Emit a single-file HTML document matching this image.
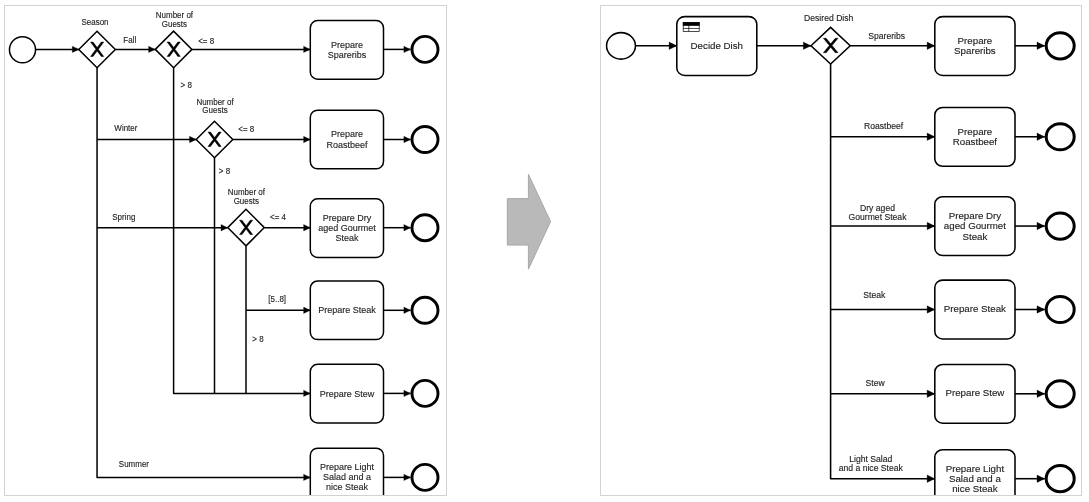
<!DOCTYPE html>
<html><head><meta charset="utf-8"><title>BPMN</title>
<style>
html,body{margin:0;padding:0;background:#fff;}
body{width:1089px;height:502px;overflow:hidden;position:relative;font-family:"Liberation Sans", sans-serif;}
svg{position:absolute;left:0;top:0;will-change:transform;}
svg text{font-family:"Liberation Sans", sans-serif;stroke:#222;stroke-width:0.12px;}
</style></head><body>
<svg width="1089" height="502" viewBox="0 0 1089 502">
<defs>
<clipPath id="cl"><rect x="5" y="6" width="441" height="489"/></clipPath>
<clipPath id="cr"><rect x="601" y="6" width="480" height="489"/></clipPath>
</defs>
<rect x="4.5" y="5.5" width="442" height="490" fill="#fff" stroke="#d3d3d3" stroke-width="1"/>
<rect x="600.5" y="5.5" width="481" height="490" fill="#fff" stroke="#d3d3d3" stroke-width="1"/>
<g clip-path="url(#cl)">
<g id="left">
<path d="M35.8 49.4 L79 49.4" fill="none" stroke="#000" stroke-width="1.5" stroke-linejoin="round"/>
<path d="M79 49.4 L72.3 52.6 L72.3 46.2 Z" fill="#000" stroke="#000" stroke-width="0.3" stroke-linejoin="round"/>
<circle cx="22.5" cy="49.7" r="13.05" fill="#fff" stroke="#000" stroke-width="1.5"/>
<path d="M115.4 49.4 L155.3 49.4" fill="none" stroke="#000" stroke-width="1.5" stroke-linejoin="round"/>
<path d="M155.3 49.4 L148.6 52.6 L148.6 46.2 Z" fill="#000" stroke="#000" stroke-width="0.3" stroke-linejoin="round"/>
<path d="M97.05 67.4 L97.05 477.4 L310.3 477.4" fill="none" stroke="#000" stroke-width="1.5" stroke-linejoin="round"/>
<path d="M310.3 477.4 L303.6 480.6 L303.6 474.2 Z" fill="#000" stroke="#000" stroke-width="0.3" stroke-linejoin="round"/>
<path d="M97.05 139.5 L196.2 139.5" fill="none" stroke="#000" stroke-width="1.5" stroke-linejoin="round"/>
<path d="M196.2 139.5 L189.5 142.7 L189.5 136.3 Z" fill="#000" stroke="#000" stroke-width="0.3" stroke-linejoin="round"/>
<path d="M97.05 227.7 L227.7 227.7" fill="none" stroke="#000" stroke-width="1.5" stroke-linejoin="round"/>
<path d="M227.7 227.7 L221 230.9 L221 224.5 Z" fill="#000" stroke="#000" stroke-width="0.3" stroke-linejoin="round"/>
<path d="M191.7 49.4 L310.3 49.4" fill="none" stroke="#000" stroke-width="1.5" stroke-linejoin="round"/>
<path d="M310.3 49.4 L303.6 52.6 L303.6 46.2 Z" fill="#000" stroke="#000" stroke-width="0.3" stroke-linejoin="round"/>
<path d="M173.6 67.6 L173.6 393.4 L310.3 393.4" fill="none" stroke="#000" stroke-width="1.5" stroke-linejoin="round"/>
<path d="M310.3 393.4 L303.6 396.6 L303.6 390.2 Z" fill="#000" stroke="#000" stroke-width="0.3" stroke-linejoin="round"/>
<path d="M232.9 139.5 L310.3 139.5" fill="none" stroke="#000" stroke-width="1.5" stroke-linejoin="round"/>
<path d="M310.3 139.5 L303.6 142.7 L303.6 136.3 Z" fill="#000" stroke="#000" stroke-width="0.3" stroke-linejoin="round"/>
<path d="M214.5 157.7 L214.5 393.4" fill="none" stroke="#000" stroke-width="1.5" stroke-linejoin="round"/>
<path d="M264.3 227.7 L310.3 227.7" fill="none" stroke="#000" stroke-width="1.5" stroke-linejoin="round"/>
<path d="M310.3 227.7 L303.6 230.9 L303.6 224.5 Z" fill="#000" stroke="#000" stroke-width="0.3" stroke-linejoin="round"/>
<path d="M246 246.3 L246 393.4" fill="none" stroke="#000" stroke-width="1.5" stroke-linejoin="round"/>
<path d="M246 310.3 L310.3 310.3" fill="none" stroke="#000" stroke-width="1.5" stroke-linejoin="round"/>
<path d="M310.3 310.3 L303.6 313.5 L303.6 307.1 Z" fill="#000" stroke="#000" stroke-width="0.3" stroke-linejoin="round"/>
<path d="M383.5 49.4 L410.55 49.4" fill="none" stroke="#000" stroke-width="1.5" stroke-linejoin="round"/>
<path d="M410.55 49.4 L403.85 52.6 L403.85 46.2 Z" fill="#000" stroke="#000" stroke-width="0.3" stroke-linejoin="round"/>
<path d="M383.5 139.5 L410.55 139.5" fill="none" stroke="#000" stroke-width="1.5" stroke-linejoin="round"/>
<path d="M410.55 139.5 L403.85 142.7 L403.85 136.3 Z" fill="#000" stroke="#000" stroke-width="0.3" stroke-linejoin="round"/>
<path d="M383.5 227.7 L410.55 227.7" fill="none" stroke="#000" stroke-width="1.5" stroke-linejoin="round"/>
<path d="M410.55 227.7 L403.85 230.9 L403.85 224.5 Z" fill="#000" stroke="#000" stroke-width="0.3" stroke-linejoin="round"/>
<path d="M383.5 310.3 L410.55 310.3" fill="none" stroke="#000" stroke-width="1.5" stroke-linejoin="round"/>
<path d="M410.55 310.3 L403.85 313.5 L403.85 307.1 Z" fill="#000" stroke="#000" stroke-width="0.3" stroke-linejoin="round"/>
<path d="M383.5 393.4 L410.55 393.4" fill="none" stroke="#000" stroke-width="1.5" stroke-linejoin="round"/>
<path d="M410.55 393.4 L403.85 396.6 L403.85 390.2 Z" fill="#000" stroke="#000" stroke-width="0.3" stroke-linejoin="round"/>
<path d="M383.5 477.4 L410.55 477.4" fill="none" stroke="#000" stroke-width="1.5" stroke-linejoin="round"/>
<path d="M410.55 477.4 L403.85 480.6 L403.85 474.2 Z" fill="#000" stroke="#000" stroke-width="0.3" stroke-linejoin="round"/>
<path d="M78.75 49.5 L97.05 31.2 L115.35 49.5 L97.05 67.8 Z" fill="#fff" stroke="#000" stroke-width="1.5" stroke-linejoin="miter"/>
<path d="M90.57 42.1 L95.92 49.29 L90.57 56.48 L93.04 56.48 L97.15 50.95 L101.27 56.48 L103.74 56.48 L98.39 49.29 L103.74 42.1 L101.27 42.1 L97.15 47.62 L93.04 42.1 Z" fill="#000" stroke="#000" stroke-width="0.5"/>
<path d="M155.3 49.4 L173.6 31.1 L191.9 49.4 L173.6 67.7 Z" fill="#fff" stroke="#000" stroke-width="1.5" stroke-linejoin="miter"/>
<path d="M167.12 42 L172.47 49.19 L167.12 56.38 L169.59 56.38 L173.7 50.85 L177.82 56.38 L180.29 56.38 L174.94 49.19 L180.29 42 L177.82 42 L173.7 47.52 L169.59 42 Z" fill="#000" stroke="#000" stroke-width="0.5"/>
<path d="M196.2 139.5 L214.5 121.2 L232.8 139.5 L214.5 157.8 Z" fill="#fff" stroke="#000" stroke-width="1.5" stroke-linejoin="miter"/>
<path d="M208.02 132.1 L213.37 139.29 L208.02 146.48 L210.49 146.48 L214.6 140.95 L218.72 146.48 L221.19 146.48 L215.84 139.29 L221.19 132.1 L218.72 132.1 L214.6 137.62 L210.49 132.1 Z" fill="#000" stroke="#000" stroke-width="0.5"/>
<path d="M227.7 227.6 L246 209.3 L264.3 227.6 L246 245.9 Z" fill="#fff" stroke="#000" stroke-width="1.5" stroke-linejoin="miter"/>
<path d="M239.52 220.2 L244.87 227.39 L239.52 234.58 L241.99 234.58 L246.1 229.05 L250.22 234.58 L252.69 234.58 L247.34 227.39 L252.69 220.2 L250.22 220.2 L246.1 225.72 L241.99 220.2 Z" fill="#000" stroke="#000" stroke-width="0.5"/>
<rect x="310.3" y="20.6" width="73.2" height="58.6" rx="7.3" ry="7.3" fill="#fff" stroke="#000" stroke-width="1.5"/>
<circle cx="425" cy="49.4" r="13" fill="#fff" stroke="#000" stroke-width="2.9"/>
<rect x="310.3" y="110.2" width="73.2" height="58.6" rx="7.3" ry="7.3" fill="#fff" stroke="#000" stroke-width="1.5"/>
<circle cx="425" cy="139.5" r="13" fill="#fff" stroke="#000" stroke-width="2.9"/>
<rect x="310.3" y="198.8" width="73.2" height="58.6" rx="7.3" ry="7.3" fill="#fff" stroke="#000" stroke-width="1.5"/>
<circle cx="425" cy="227.7" r="13" fill="#fff" stroke="#000" stroke-width="2.9"/>
<rect x="310.3" y="281" width="73.2" height="58.6" rx="7.3" ry="7.3" fill="#fff" stroke="#000" stroke-width="1.5"/>
<circle cx="425" cy="310.3" r="13" fill="#fff" stroke="#000" stroke-width="2.9"/>
<rect x="310.3" y="364.3" width="73.2" height="58.6" rx="7.3" ry="7.3" fill="#fff" stroke="#000" stroke-width="1.5"/>
<circle cx="425" cy="393.4" r="13" fill="#fff" stroke="#000" stroke-width="2.9"/>
<rect x="310.3" y="448.2" width="73.2" height="58.6" rx="7.3" ry="7.3" fill="#fff" stroke="#000" stroke-width="1.5"/>
<circle cx="425" cy="477.4" r="13" fill="#fff" stroke="#000" stroke-width="2.9"/>
<text transform="translate(346.9 47.8) scale(1 1.07)" x="0" y="0" font-size="9" text-anchor="middle" fill="#222">Prepare</text>
<text transform="translate(346.9 58) scale(1 1.07)" x="0" y="0" font-size="9" text-anchor="middle" fill="#222">Spareribs</text>
<text transform="translate(346.9 137.4) scale(1 1.07)" x="0" y="0" font-size="9" text-anchor="middle" fill="#222">Prepare</text>
<text transform="translate(346.9 147.6) scale(1 1.07)" x="0" y="0" font-size="9" text-anchor="middle" fill="#222">Roastbeef</text>
<text transform="translate(346.9 220.7) scale(1 1.07)" x="0" y="0" font-size="9" text-anchor="middle" fill="#222">Prepare Dry</text>
<text transform="translate(346.9 230.9) scale(1 1.07)" x="0" y="0" font-size="9" text-anchor="middle" fill="#222">aged Gourmet</text>
<text transform="translate(346.9 241.1) scale(1 1.07)" x="0" y="0" font-size="9" text-anchor="middle" fill="#222">Steak</text>
<text transform="translate(346.9 313.2) scale(1 1.07)" x="0" y="0" font-size="9" text-anchor="middle" fill="#222">Prepare Steak</text>
<text transform="translate(346.9 397) scale(1 1.07)" x="0" y="0" font-size="9" text-anchor="middle" fill="#222">Prepare Stew</text>
<text transform="translate(346.9 469.8) scale(1 1.07)" x="0" y="0" font-size="9" text-anchor="middle" fill="#222">Prepare Light</text>
<text transform="translate(346.9 480) scale(1 1.07)" x="0" y="0" font-size="9" text-anchor="middle" fill="#222">Salad and a</text>
<text transform="translate(346.9 490.2) scale(1 1.07)" x="0" y="0" font-size="9" text-anchor="middle" fill="#222">nice Steak</text>
<text transform="translate(95 24.8) scale(1 1.1)" x="0" y="0" font-size="8" text-anchor="middle" fill="#222">Season</text>
<text transform="translate(174.4 18.3) scale(1 1.1)" x="0" y="0" font-size="8" text-anchor="middle" fill="#222">Number of</text>
<text transform="translate(174.4 26.9) scale(1 1.1)" x="0" y="0" font-size="8" text-anchor="middle" fill="#222">Guests</text>
<text transform="translate(129.8 42.7) scale(1 1.1)" x="0" y="0" font-size="8" text-anchor="middle" fill="#222">Fall</text>
<text transform="translate(206.2 44.1) scale(1 1.1)" x="0" y="0" font-size="8" text-anchor="middle" fill="#222">&lt;= 8</text>
<text transform="translate(186.2 88.2) scale(1 1.1)" x="0" y="0" font-size="8" text-anchor="middle" fill="#222">&gt; 8</text>
<text transform="translate(125.9 130.9) scale(1 1.1)" x="0" y="0" font-size="8" text-anchor="middle" fill="#222">Winter</text>
<text transform="translate(215 104.8) scale(1 1.1)" x="0" y="0" font-size="8" text-anchor="middle" fill="#222">Number of</text>
<text transform="translate(215 113.3) scale(1 1.1)" x="0" y="0" font-size="8" text-anchor="middle" fill="#222">Guests</text>
<text transform="translate(246.3 131.9) scale(1 1.1)" x="0" y="0" font-size="8" text-anchor="middle" fill="#222">&lt;= 8</text>
<text transform="translate(224.5 173.8) scale(1 1.1)" x="0" y="0" font-size="8" text-anchor="middle" fill="#222">&gt; 8</text>
<text transform="translate(123.8 220.3) scale(1 1.1)" x="0" y="0" font-size="8" text-anchor="middle" fill="#222">Spring</text>
<text transform="translate(246.3 195.1) scale(1 1.1)" x="0" y="0" font-size="8" text-anchor="middle" fill="#222">Number of</text>
<text transform="translate(246.3 203.6) scale(1 1.1)" x="0" y="0" font-size="8" text-anchor="middle" fill="#222">Guests</text>
<text transform="translate(278 220.1) scale(1 1.1)" x="0" y="0" font-size="8" text-anchor="middle" fill="#222">&lt;= 4</text>
<text transform="translate(277.2 301.5) scale(1 1.1)" x="0" y="0" font-size="8" text-anchor="middle" fill="#222">[5..8]</text>
<text transform="translate(258 341.5) scale(1 1.1)" x="0" y="0" font-size="8" text-anchor="middle" fill="#222">&gt; 8</text>
<text transform="translate(133.9 466.7) scale(1 1.1)" x="0" y="0" font-size="8" text-anchor="middle" fill="#222">Summer</text>
</g>
</g>
<g clip-path="url(#cr)">
<g id="right">
<path d="M635.4 45.8 L676.8 45.8" fill="none" stroke="#000" stroke-width="1.55" stroke-linejoin="round"/>
<path d="M676.8 45.8 L669.1 49.5 L669.1 42.1 Z" fill="#000" stroke="#000" stroke-width="0.3" stroke-linejoin="round"/>
<path d="M756.8 45.8 L811 45.8" fill="none" stroke="#000" stroke-width="1.55" stroke-linejoin="round"/>
<path d="M811 45.8 L803.3 49.5 L803.3 42.1 Z" fill="#000" stroke="#000" stroke-width="0.3" stroke-linejoin="round"/>
<path d="M850.2 45.8 L934.8 45.8" fill="none" stroke="#000" stroke-width="1.55" stroke-linejoin="round"/>
<path d="M934.8 45.8 L927.1 49.5 L927.1 42.1 Z" fill="#000" stroke="#000" stroke-width="0.3" stroke-linejoin="round"/>
<path d="M830.6 63.8 L830.6 478.7 L934.8 478.7" fill="none" stroke="#000" stroke-width="1.55" stroke-linejoin="round"/>
<path d="M934.8 478.7 L927.1 482.4 L927.1 475 Z" fill="#000" stroke="#000" stroke-width="0.3" stroke-linejoin="round"/>
<path d="M830.6 136.75 L934.8 136.75" fill="none" stroke="#000" stroke-width="1.55" stroke-linejoin="round"/>
<path d="M934.8 136.75 L927.1 140.45 L927.1 133.05 Z" fill="#000" stroke="#000" stroke-width="0.3" stroke-linejoin="round"/>
<path d="M830.6 226.05 L934.8 226.05" fill="none" stroke="#000" stroke-width="1.55" stroke-linejoin="round"/>
<path d="M934.8 226.05 L927.1 229.75 L927.1 222.35 Z" fill="#000" stroke="#000" stroke-width="0.3" stroke-linejoin="round"/>
<path d="M830.6 309.5 L934.8 309.5" fill="none" stroke="#000" stroke-width="1.55" stroke-linejoin="round"/>
<path d="M934.8 309.5 L927.1 313.2 L927.1 305.8 Z" fill="#000" stroke="#000" stroke-width="0.3" stroke-linejoin="round"/>
<path d="M830.6 393.8 L934.8 393.8" fill="none" stroke="#000" stroke-width="1.55" stroke-linejoin="round"/>
<path d="M934.8 393.8 L927.1 397.5 L927.1 390.1 Z" fill="#000" stroke="#000" stroke-width="0.3" stroke-linejoin="round"/>
<path d="M1015 45.8 L1044.7 45.8" fill="none" stroke="#000" stroke-width="1.55" stroke-linejoin="round"/>
<path d="M1044.7 45.8 L1037 49.5 L1037 42.1 Z" fill="#000" stroke="#000" stroke-width="0.3" stroke-linejoin="round"/>
<path d="M1015 136.75 L1044.7 136.75" fill="none" stroke="#000" stroke-width="1.55" stroke-linejoin="round"/>
<path d="M1044.7 136.75 L1037 140.45 L1037 133.05 Z" fill="#000" stroke="#000" stroke-width="0.3" stroke-linejoin="round"/>
<path d="M1015 226.05 L1044.7 226.05" fill="none" stroke="#000" stroke-width="1.55" stroke-linejoin="round"/>
<path d="M1044.7 226.05 L1037 229.75 L1037 222.35 Z" fill="#000" stroke="#000" stroke-width="0.3" stroke-linejoin="round"/>
<path d="M1015 309.5 L1044.7 309.5" fill="none" stroke="#000" stroke-width="1.55" stroke-linejoin="round"/>
<path d="M1044.7 309.5 L1037 313.2 L1037 305.8 Z" fill="#000" stroke="#000" stroke-width="0.3" stroke-linejoin="round"/>
<path d="M1015 393.8 L1044.7 393.8" fill="none" stroke="#000" stroke-width="1.55" stroke-linejoin="round"/>
<path d="M1044.7 393.8 L1037 397.5 L1037 390.1 Z" fill="#000" stroke="#000" stroke-width="0.3" stroke-linejoin="round"/>
<path d="M1015 478.7 L1044.7 478.7" fill="none" stroke="#000" stroke-width="1.55" stroke-linejoin="round"/>
<path d="M1044.7 478.7 L1037 482.4 L1037 475 Z" fill="#000" stroke="#000" stroke-width="0.3" stroke-linejoin="round"/>
<ellipse cx="621.0" cy="45.85" rx="14.45" ry="13.25" fill="#fff" stroke="#000" stroke-width="1.55"/>
<rect x="676.8" y="16.6" width="80" height="58.8" rx="8" ry="7.4" fill="#fff" stroke="#000" stroke-width="1.55"/>
<path d="M811 45.7 L830.6 27.4 L850.2 45.7 L830.6 64 Z" fill="#fff" stroke="#000" stroke-width="1.55" stroke-linejoin="miter"/>
<path d="M823.4 38.3 L829.34 45.49 L823.4 52.68 L826.14 52.68 L830.71 47.15 L835.29 52.68 L838.03 52.68 L832.09 45.49 L838.03 38.3 L835.29 38.3 L830.71 43.82 L826.14 38.3 Z" fill="#000" stroke="#000" stroke-width="0.5"/>
<rect x="934.8" y="16.6" width="80.2" height="58.8" rx="8" ry="7.4" fill="#fff" stroke="#000" stroke-width="1.55"/>
<ellipse cx="1060.2" cy="45.8" rx="14" ry="13.1" fill="#fff" stroke="#000" stroke-width="3"/>
<rect x="934.8" y="107.45" width="80.2" height="58.8" rx="8" ry="7.4" fill="#fff" stroke="#000" stroke-width="1.55"/>
<ellipse cx="1060.2" cy="136.75" rx="14" ry="13.1" fill="#fff" stroke="#000" stroke-width="3"/>
<rect x="934.8" y="196.65" width="80.2" height="58.8" rx="8" ry="7.4" fill="#fff" stroke="#000" stroke-width="1.55"/>
<ellipse cx="1060.2" cy="226.05" rx="14" ry="13.1" fill="#fff" stroke="#000" stroke-width="3"/>
<rect x="934.8" y="280.1" width="80.2" height="58.8" rx="8" ry="7.4" fill="#fff" stroke="#000" stroke-width="1.55"/>
<ellipse cx="1060.2" cy="309.5" rx="14" ry="13.1" fill="#fff" stroke="#000" stroke-width="3"/>
<rect x="934.8" y="364.4" width="80.2" height="58.8" rx="8" ry="7.4" fill="#fff" stroke="#000" stroke-width="1.55"/>
<ellipse cx="1060.2" cy="393.8" rx="14" ry="13.1" fill="#fff" stroke="#000" stroke-width="3"/>
<rect x="934.8" y="449.7" width="80.2" height="58.8" rx="8" ry="7.4" fill="#fff" stroke="#000" stroke-width="1.55"/>
<ellipse cx="1060.2" cy="478.7" rx="14" ry="13.1" fill="#fff" stroke="#000" stroke-width="3"/>
<rect x="683.2" y="22.52" width="16" height="8.88" fill="#fff" stroke="#000" stroke-width="0.7"/>
<rect x="683.2" y="22.52" width="16" height="2.96" fill="#000" stroke="#000" stroke-width="0.7"/>
<path d="M683.2 28.44 H699.2 M688.8 25.48 V31.4" stroke="#000" stroke-width="0.7" fill="none"/>
<text transform="translate(716.8 48.7) scale(1.08 1.08)" x="0" y="0" font-size="9" text-anchor="middle" fill="#222">Decide Dish</text>
<text transform="translate(974.9 43.7) scale(1.08 1.08)" x="0" y="0" font-size="9" text-anchor="middle" fill="#222">Prepare</text>
<text transform="translate(974.9 54) scale(1.08 1.08)" x="0" y="0" font-size="9" text-anchor="middle" fill="#222">Spareribs</text>
<text transform="translate(974.9 134.65) scale(1.08 1.08)" x="0" y="0" font-size="9" text-anchor="middle" fill="#222">Prepare</text>
<text transform="translate(974.9 144.95) scale(1.08 1.08)" x="0" y="0" font-size="9" text-anchor="middle" fill="#222">Roastbeef</text>
<text transform="translate(974.9 218.95) scale(1.08 1.08)" x="0" y="0" font-size="9" text-anchor="middle" fill="#222">Prepare Dry</text>
<text transform="translate(974.9 229.25) scale(1.08 1.08)" x="0" y="0" font-size="9" text-anchor="middle" fill="#222">aged Gourmet</text>
<text transform="translate(974.9 239.55) scale(1.08 1.08)" x="0" y="0" font-size="9" text-anchor="middle" fill="#222">Steak</text>
<text transform="translate(974.9 312.4) scale(1.08 1.08)" x="0" y="0" font-size="9" text-anchor="middle" fill="#222">Prepare Steak</text>
<text transform="translate(974.9 396.4) scale(1.08 1.08)" x="0" y="0" font-size="9" text-anchor="middle" fill="#222">Prepare Stew</text>
<text transform="translate(974.9 471.6) scale(1.08 1.08)" x="0" y="0" font-size="9" text-anchor="middle" fill="#222">Prepare Light</text>
<text transform="translate(974.9 481.9) scale(1.08 1.08)" x="0" y="0" font-size="9" text-anchor="middle" fill="#222">Salad and a</text>
<text transform="translate(974.9 492.2) scale(1.08 1.08)" x="0" y="0" font-size="9" text-anchor="middle" fill="#222">nice Steak</text>
<text transform="translate(828.7 20.8) scale(1.06 1.1)" x="0" y="0" font-size="8.14" text-anchor="middle" fill="#222">Desired Dish</text>
<text transform="translate(886.7 38.8) scale(1.06 1.1)" x="0" y="0" font-size="8.14" text-anchor="middle" fill="#222">Spareribs</text>
<text transform="translate(883.6 128.8) scale(1.06 1.1)" x="0" y="0" font-size="8.14" text-anchor="middle" fill="#222">Roastbeef</text>
<text transform="translate(877.5 210.6) scale(1.06 1.1)" x="0" y="0" font-size="8.14" text-anchor="middle" fill="#222">Dry aged</text>
<text transform="translate(877.5 219.5) scale(1.06 1.1)" x="0" y="0" font-size="8.14" text-anchor="middle" fill="#222">Gourmet Steak</text>
<text transform="translate(874.3 297.6) scale(1.06 1.1)" x="0" y="0" font-size="8.14" text-anchor="middle" fill="#222">Steak</text>
<text transform="translate(875.2 385.6) scale(1.06 1.1)" x="0" y="0" font-size="8.14" text-anchor="middle" fill="#222">Stew</text>
<text transform="translate(870.8 462.4) scale(1.06 1.1)" x="0" y="0" font-size="8.14" text-anchor="middle" fill="#222">Light Salad</text>
<text transform="translate(870.8 471.3) scale(1.06 1.1)" x="0" y="0" font-size="8.14" text-anchor="middle" fill="#222">and a nice Steak</text>
</g>
</g>
<path d="M507.3 198.6 H528.4 V174.2 L550.6 221.6 L528.4 269.2 V245.1 H507.3 Z" fill="#b9b9b9" stroke="#a8a8a8" stroke-width="1"/>
</svg>
</body></html>
